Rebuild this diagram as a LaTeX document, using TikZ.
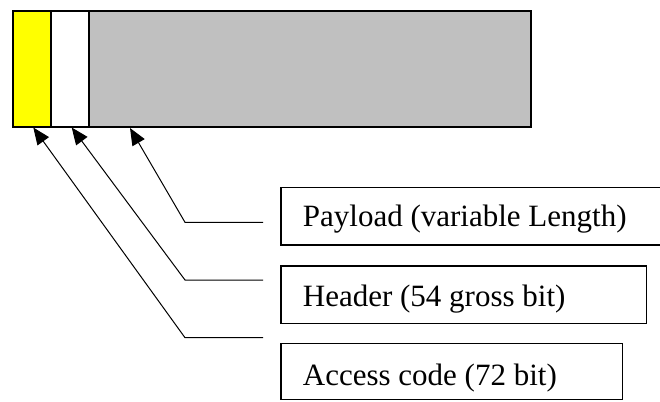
\documentclass[tikz,border=0pt]{standalone}
\usepackage{fontspec}
\setmainfont{Liberation Serif}
\usetikzlibrary{arrows.meta}
\definecolor{segyellow}{HTML}{FFFF00}
\definecolor{seggray}{HTML}{C0C0C0}
\tikzset{
  segment/.style={draw=black, line width=1.6pt, inner sep=0pt, outer sep=0pt,
    anchor=north west, minimum height=115.7pt},
  labelbox/.style={draw=black, line width=1.2pt, inner sep=0pt, outer sep=0pt,
    anchor=north west},
  labeltext/.style={inner sep=0pt, anchor=base west,
    font=\fontsize{31}{36}\selectfont},
  pointer/.style={draw=black, line width=1pt,
    -{Triangle[length=17pt,width=14pt]}}
}
\begin{document}
\begin{tikzpicture}[x=1pt, y=-1pt]
  \useasboundingbox (0,0) rectangle (660,401);

  % packet fields
  \node[segment, fill=segyellow, minimum width=38pt]  (accseg) at (12.7,11) {};
  \node[segment, fill=white,     minimum width=38.3pt] (hdrseg) at (50.7,11) {};
  \node[segment, fill=seggray,   minimum width=442pt] (payseg) at (89,11) {};

  % label boxes
  \node[labelbox, minimum width=400pt,   minimum height=57.3pt] (paybox) at (281,187.7) {};
  \node[labelbox, minimum width=365.7pt, minimum height=57.3pt] (hdrbox) at (281,266) {};
  \node[labelbox, minimum width=341.7pt, minimum height=56.2pt] (accbox) at (281,343.3) {};

  \node[labeltext] (paytext) at (302.7,226.7) {Payload (variable Length)};
  \node[labeltext] (hdrtext) at (302.7,306)   {Header (54 gross bit)};
  \node[labeltext] (acctext) at (302.7,385)   {Access code (72 bit)};

  % pointer ends
  \coordinate (paystart) at (263,222.3);
  \coordinate (paybend)  at (185,222.3);
  \coordinate (paytip)   at (130,128);
  \coordinate (hdrstart) at (263,280);
  \coordinate (hdrbend)  at (185,280);
  \coordinate (hdrtip)   at (71.7,127.5);
  \coordinate (accstart) at (263,337.7);
  \coordinate (accbend)  at (185,337.7);
  \coordinate (acctip)   at (33.3,127.5);

  \draw[pointer] (paystart) -- (paybend) -- (paytip);
  \draw[pointer] (hdrstart) -- (hdrbend) -- (hdrtip);
  \draw[pointer] (accstart) -- (accbend) -- (acctip);
\end{tikzpicture}
\end{document}
